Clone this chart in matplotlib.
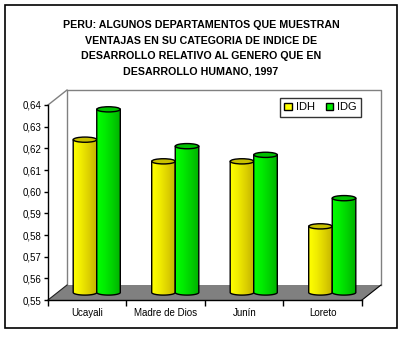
import numpy as np
import matplotlib
matplotlib.use("Agg")
import matplotlib.pyplot as plt
from matplotlib.patches import Polygon, Ellipse, Rectangle, Patch
from matplotlib.colors import LinearSegmentedColormap
from matplotlib import font_manager

# ---- data ----
categories = ["Ucayali", "Madre de Dios", "Junín", "Loreto"]
idh = [0.624, 0.614, 0.614, 0.584]
idg = [0.638, 0.621, 0.617, 0.597]
series_names = ["IDH", "IDG"]
yticks = [0.55, 0.56, 0.57, 0.58, 0.59, 0.60, 0.61, 0.62, 0.63, 0.64]
ytick_labels = ["0,55", "0,56", "0,57", "0,58", "0,59", "0,60", "0,61", "0,62", "0,63", "0,64"]
title = ("PERU: ALGUNOS DEPARTAMENTOS QUE MUESTRAN\nVENTAJAS EN SU CATEGORIA DE INDICE DE\n"
         "DESARROLLO RELATIVO AL GENERO QUE EN\nDESARROLLO HUMANO, 1997")

names = {f.name for f in font_manager.fontManager.ttflist}
base_font = "Liberation Sans" if "Liberation Sans" in names else "DejaVu Sans"
narrow_font = "Liberation Sans Narrow" if "Liberation Sans Narrow" in names else base_font
plt.rcParams["font.family"] = [base_font, "DejaVu Sans"]

W, H = 406, 337
fig = plt.figure(figsize=(W / 100, H / 100), dpi=100)
fig.patch.set_facecolor("white")

# outer frame
fig.add_artist(Rectangle((5 / W, 1 - 328 / H), 392 / W, 323 / H, transform=fig.transFigure,
                         fill=False, edgecolor="black", linewidth=1.2))

fig.text(201 / W, 1 - 20 / H, title, ha="center", va="top", fontsize=7.7, fontweight="bold",
         family=[narrow_font, "DejaVu Sans"], linespacing=1.7)

ax = fig.add_axes([48 / W, 37 / H, 314 / W, 195 / H])
ymin, ymax = 0.55, 0.64
ncat = len(categories)
ax.patch.set_alpha(0)
for s in ["top", "right"]:
    ax.spines[s].set_visible(False)
ax.spines["left"].set_linewidth(1)
ax.spines["bottom"].set_linewidth(1)

# 3D offsets in data units
dx = 19 / 314 * ncat
dy = 15 / 195 * (ymax - ymin)

wall = "#808080"
ax.plot([dx, dx, ncat + dx, ncat + dx], [ymin + dy, ymax + dy, ymax + dy, ymin + dy],
        color=wall, lw=1, clip_on=False, zorder=1)
ax.plot([0, dx], [ymax, ymax + dy], color=wall, lw=1, clip_on=False, zorder=1)
floor = Polygon([[0, ymin], [ncat, ymin], [ncat + dx, ymin + dy], [dx, ymin + dy]], closed=True,
                facecolor="#808080", edgecolor="none", clip_on=False, zorder=1)
ax.add_patch(floor)
ax.plot([0, dx], [ymin, ymin + dy], color="#202020", lw=0.8, clip_on=False, zorder=1.5)
ax.plot([ncat, ncat + dx], [ymin, ymin + dy], color="black", lw=0.8, clip_on=False, zorder=1.5)

# cylinders
bw = 0.30
b = 2.6 / 195 * (ymax - ymin)  # half ellipse height
body_cols = {
    "IDH": ["#ffff00", "#f0ec00", "#dcd000", "#c4b400"],
    "IDG": ["#00ff00", "#00ec00", "#00d000", "#00b000"],
}
top_cols = {"IDH": "#c8c000", "IDG": "#00c000"}


def cylinder(x0, val, name, z):
    xc = x0 + bw / 2
    yb = ymin + dy / 2
    t = np.linspace(0, np.pi, 40)
    arc = np.column_stack([xc - bw / 2 * np.cos(t), yb - b * np.sin(t)])
    pts = np.vstack([[[x0, val]], arc, [[x0 + bw, val]]])
    body = Polygon(pts, closed=True, facecolor="none", edgecolor="black", lw=1.0,
                   clip_on=False, zorder=z + 0.2)
    ax.add_patch(body)
    cmap = LinearSegmentedColormap.from_list(name, body_cols[name])
    grad = np.linspace(0, 1, 64).reshape(1, -1)
    im = ax.imshow(grad, cmap=cmap, extent=[x0, x0 + bw, yb - b, val], aspect="auto",
                   zorder=z, interpolation="bilinear")
    im.set_clip_path(body)
    top = Ellipse((xc, val), bw, 2 * b, facecolor=top_cols[name], edgecolor="black", lw=1.0,
                  clip_on=False, zorder=z + 0.3)
    ax.add_patch(top)


for i in range(ncat):
    c = i + 0.5 + dx / 2
    cylinder(c - bw, idh[i], "IDH", 3 + i)
    cylinder(c, idg[i], "IDG", 3.5 + i)

ax.set_xlim(0, ncat)
ax.set_ylim(ymin, ymax)

ax.set_yticks(yticks)
ax.set_yticklabels(ytick_labels, fontsize=7)
ax.tick_params(axis="y", direction="out", length=3, width=1, pad=2)
ax.set_xticks(range(ncat + 1))
ax.set_xticklabels([""] * (ncat + 1))
ax.tick_params(axis="x", which="major", direction="out", length=4, width=1)
ax.set_xticks([i + 0.5 for i in range(ncat)], minor=True)
ax.set_xticklabels(categories, minor=True, fontsize=7)
ax.tick_params(axis="x", which="minor", length=0, pad=6)

handles = [Patch(facecolor="#ffff00", edgecolor="black", lw=1),
           Patch(facecolor="#00ee00", edgecolor="black", lw=1)]
leg = fig.legend(handles, series_names, loc="upper left", bbox_to_anchor=(280 / W, 1 - 98 / H),
                 ncol=2, fontsize=8, frameon=True, fancybox=False, handlelength=0.7,
                 handleheight=0.7, handletextpad=0.3, columnspacing=1.0, borderpad=0.4,
                 borderaxespad=0)
leg.get_frame().set_edgecolor("black")
leg.get_frame().set_linewidth(1)

fig.savefig("out.png", dpi=100, facecolor="white")
